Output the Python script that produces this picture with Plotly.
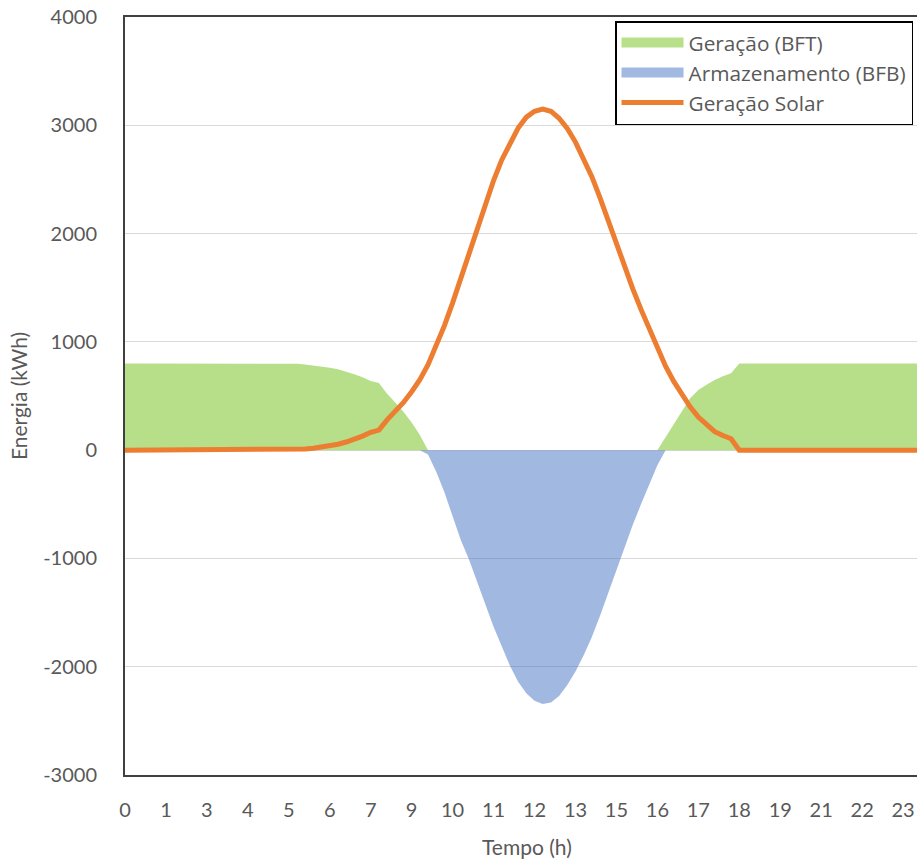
import plotly.graph_objects as go

# sample index (category position along the time axis)
idx = list(range(100))

# tick labels shown every 5th sample
tick_idx = [0, 5, 10, 15, 20, 25, 30, 35, 40, 45, 50, 55, 60, 65, 70, 75, 80, 85, 90, 95]
tick_labels = ["0", "1", "3", "4", "5", "6", "7", "9", "10", "11",
               "12", "13", "15", "16", "17", "18", "19", "21", "22", "23"]

geracao_solar = [
    0, 0, 0, 0, 0, 0, 0, 0, 0, 0,
    0, 0, 0, 0, 0, 0, 0, 0, 0, 0,
    0, 5, 10, 18, 27, 40, 55, 75, 100, 130,
    165, 185, 280, 360, 440, 540, 650, 790, 960, 1150,
    1360, 1590, 1820, 2050, 2280, 2490, 2680, 2840, 2975, 3075,
    3130, 3150, 3130, 3065, 2970, 2845, 2695, 2525, 2330, 2120,
    1890, 1690, 1490, 1300, 1115, 940, 775, 635, 510, 400,
    305, 230, 170, 135, 105, 0, 0, 0, 0, 0,
    0, 0, 0, 0, 0, 0, 0, 0, 0, 0,
    0, 0, 0, 0, 0, 0, 0, 0, 0, 0,
]

geracao_bft = [
    800, 800, 800, 800, 800, 800, 800, 800, 800, 800,
    800, 800, 800, 800, 800, 800, 800, 800, 800, 800,
    800, 797, 792, 784, 775, 762, 746, 726, 702, 672,
    638, 620, 520, 440, 355, 255, 140, 0, 0, 0,
    0, 0, 0, 0, 0, 0, 0, 0, 0, 0,
    0, 0, 0, 0, 0, 0, 0, 0, 0, 0,
    0, 0, 0, 0, 0, 0, 120, 245, 360, 480,
    555, 605, 648, 683, 710, 800, 800, 800, 800, 800,
    800, 800, 800, 800, 800, 800, 800, 800, 800, 800,
    800, 800, 800, 800, 800, 800, 800, 800, 800, 800,
]

armazenamento_bfb = [
    0, 0, 0, 0, 0, 0, 0, 0, 0, 0,
    0, 0, 0, 0, 0, 0, 0, 0, 0, 0,
    0, 0, 0, 0, 0, 0, 0, 0, 0, 0,
    0, 0, 0, 0, 0, 0, 0, -40, -200, -390,
    -610, -830, -1010, -1220, -1430, -1630, -1810, -1990, -2140, -2245,
    -2315, -2345, -2330, -2270, -2170, -2045, -1895, -1725, -1530, -1320,
    -1090, -890, -690, -500, -315, -140, 0, 0, 0, 0,
    0, 0, 0, 0, 0, 0, 0, 0, 0, 0,
    0, 0, 0, 0, 0, 0, 0, 0, 0, 0,
    0, 0, 0, 0, 0, 0, 0, 0, 0, 0,
]

y_ticks = [-3000, -2000, -1000, 0, 1000, 2000, 3000, 4000]
y_tick_labels = ["-3000", "-2000", "-1000", "0", "1000", "2000", "3000", "4000"]

FONT = "Lato"
LEGEND_FONT = "Open Sans"
GREY = "#595959"
GREEN = "rgba(112,190,20,0.5)"
BLUE = "rgba(68,114,196,0.5)"
GREEN_SOLID = "#B8DF8A"
BLUE_SOLID = "#A2B9E2"
ORANGE = "#ED7D31"

fig = go.Figure()
fig.add_trace(go.Scatter(x=idx, y=geracao_bft, name="Geração (BFT)", mode="lines",
                         fill="tozeroy", fillcolor=GREEN, line=dict(width=0, color=GREEN),
                         showlegend=False))
fig.add_trace(go.Scatter(x=idx, y=armazenamento_bfb, name="Armazenamento (BFB)", mode="lines",
                         fill="tozeroy", fillcolor=BLUE, line=dict(width=0, color=BLUE),
                         showlegend=False))
fig.add_trace(go.Scatter(x=idx, y=geracao_solar, name="Geração Solar", mode="lines",
                         line=dict(width=5, color=ORANGE), showlegend=False))
# legend keys (no data drawn)
fig.add_trace(go.Scatter(x=[None], y=[None], name="Geração (BFT)", mode="lines",
                         line=dict(width=13, color=GREEN_SOLID)))
fig.add_trace(go.Scatter(x=[None], y=[None], name="Armazenamento (BFB)", mode="lines",
                         line=dict(width=13, color=BLUE_SOLID)))
fig.add_trace(go.Scatter(x=[None], y=[None], name="Geração Solar", mode="lines",
                         line=dict(width=5, color=ORANGE)))

fig.update_layout(
    width=917, height=861,
    margin=dict(l=125, r=0, t=17, b=86),
    paper_bgcolor="white", plot_bgcolor="white",
    font=dict(family=FONT, size=20, color=GREY),
    showlegend=True,
    legend=dict(x=0.6187, y=0.9947, xanchor="left", yanchor="top",
                bordercolor="black", borderwidth=1.5, bgcolor="white",
                font=dict(family=LEGEND_FONT, size=20.8, color=GREY),
                itemwidth=62, tracegroupgap=0),
)
fig.update_xaxes(range=[0, 96.7], tickmode="array", tickvals=tick_idx, ticktext=tick_labels,
                 showgrid=False, zeroline=False, showline=True, linecolor="#404040", linewidth=2,
                 mirror=True, ticks="", ticklabelstandoff=16,
                 tickfont=dict(family=FONT, size=20, color=GREY))
fig.update_yaxes(range=[-3000, 4000], tickmode="array", tickvals=y_ticks, ticktext=y_tick_labels,
                 showgrid=True, gridcolor="#D9D9D9", gridwidth=1.3, zeroline=False,
                 showline=True, linecolor="#404040", linewidth=2, ticks="", ticklabelstandoff=22,
                 title=dict(text="Energia (kWh)", font=dict(family=FONT, size=21, color=GREY), standoff=10),
                 tickfont=dict(family=FONT, size=20, color=GREY))
fig.add_annotation(text="Tempo (h)", xref="paper", yref="paper",
                   x=0.5076, y=-0.0949, xanchor="center", yanchor="middle", showarrow=False,
                   font=dict(family=FONT, size=21, color=GREY))

fig.write_html("out.html")
